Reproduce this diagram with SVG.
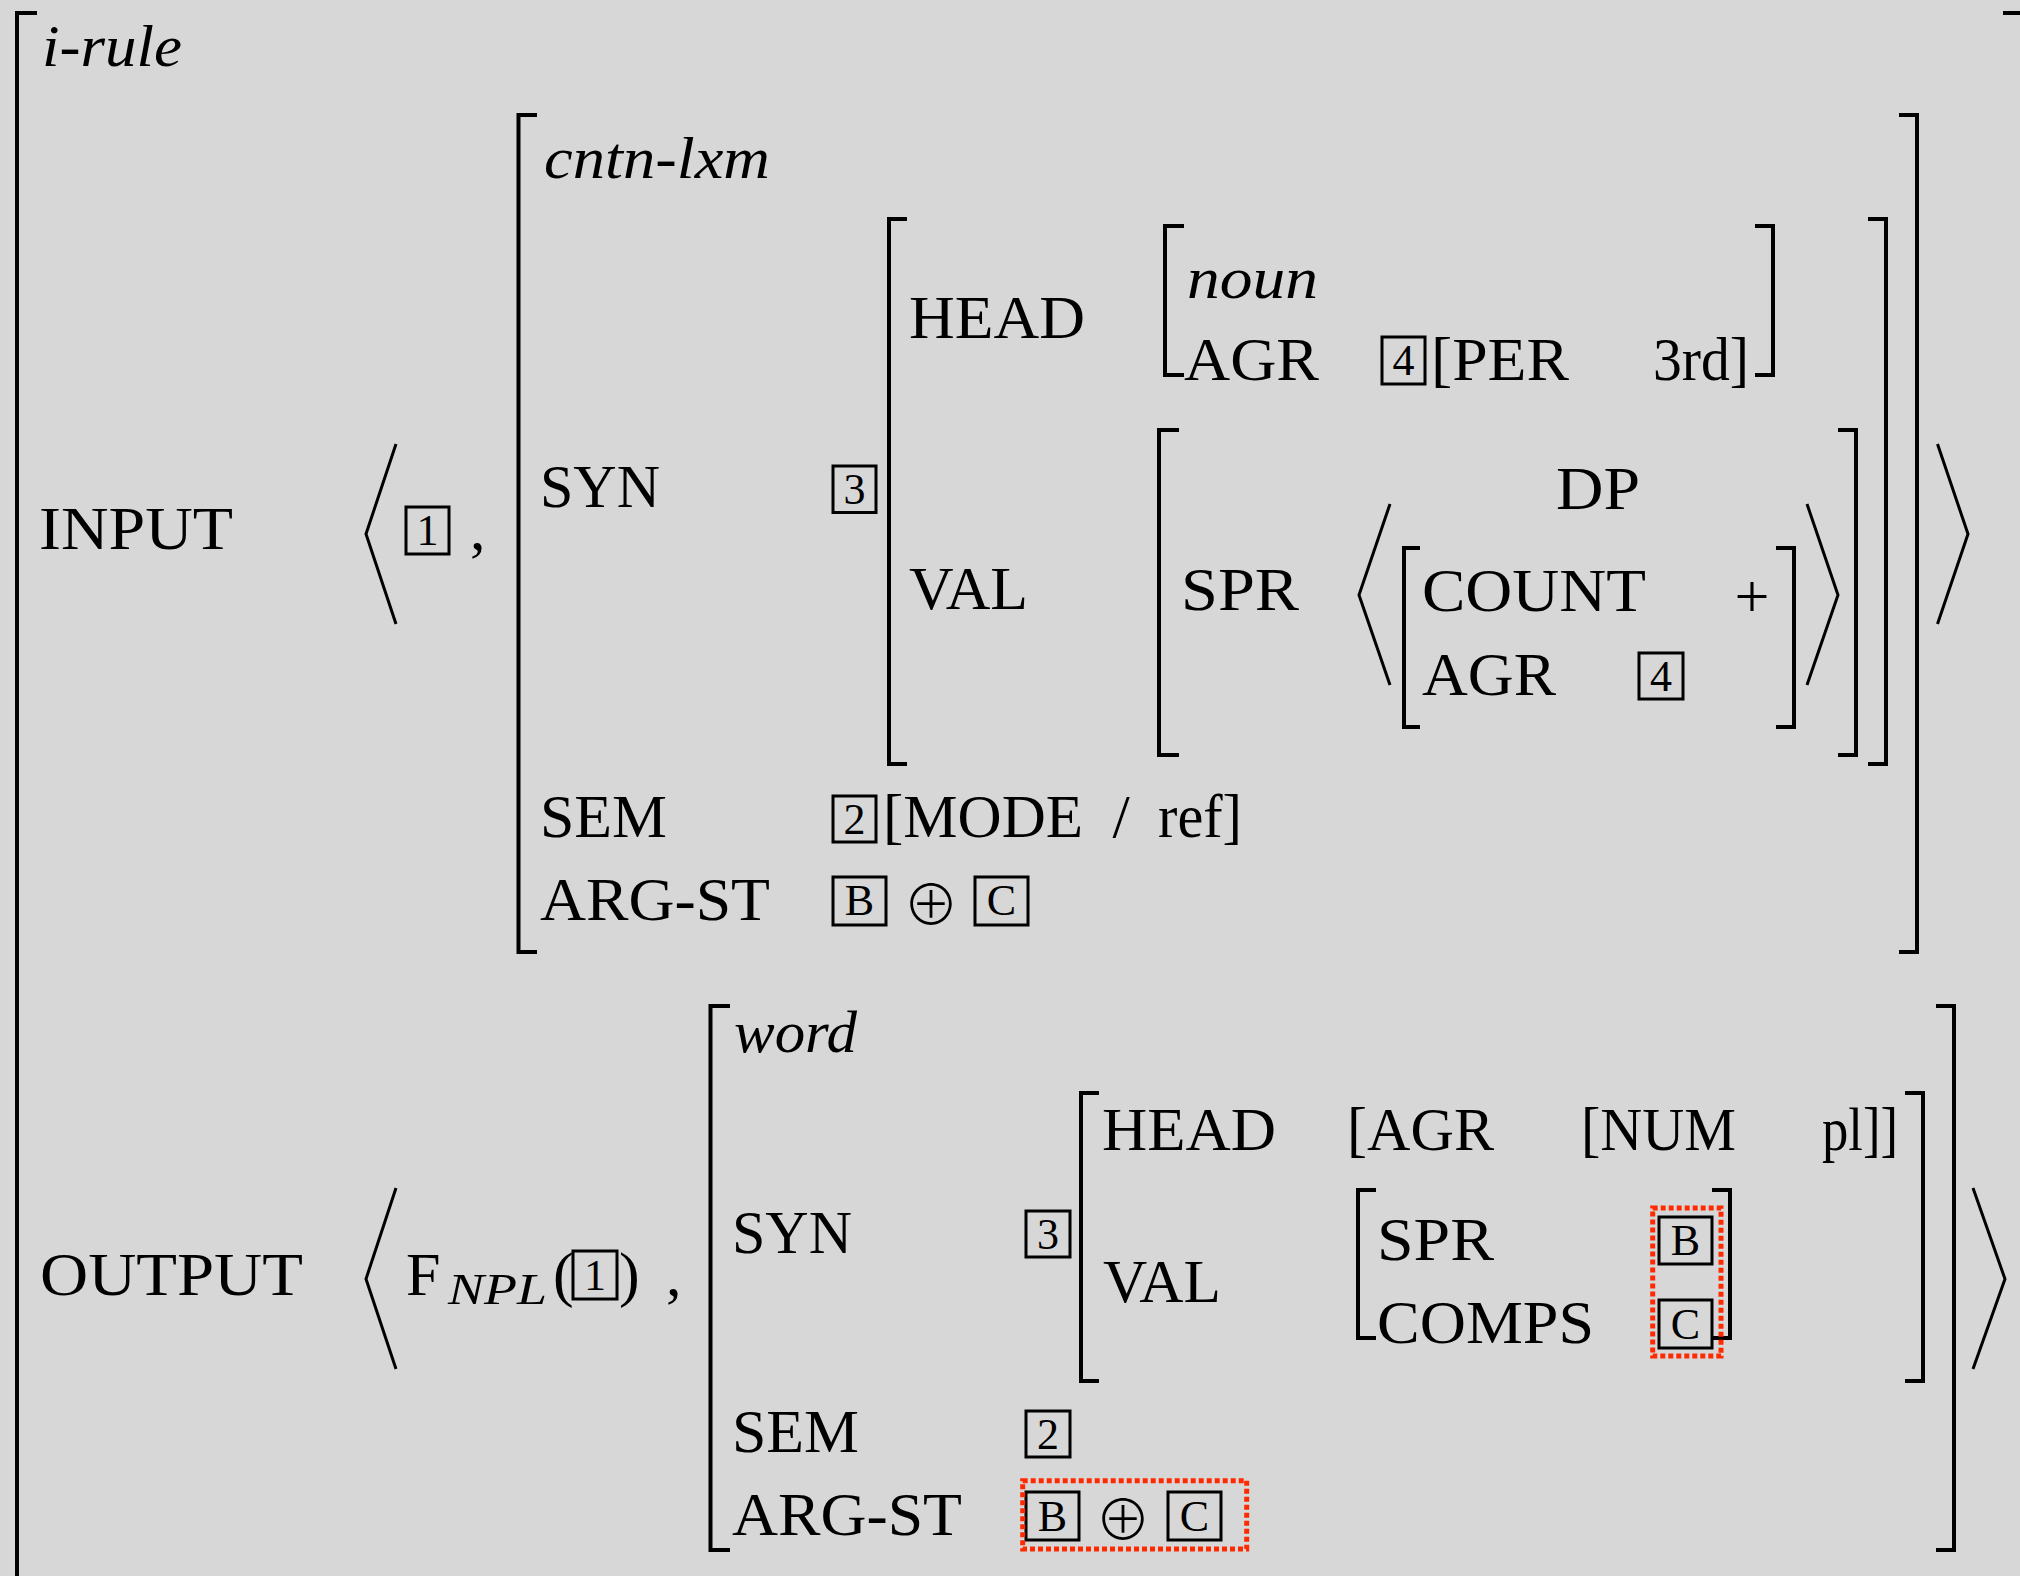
<svg xmlns="http://www.w3.org/2000/svg" width="2020" height="1576" viewBox="0 0 2020 1576">
<style>
.t{font-family:"Liberation Serif","Times New Roman",serif;font-size:62px;fill:#000}
.i{font-family:"Liberation Serif","Times New Roman",serif;font-style:italic;font-size:60px;fill:#000}
.s{font-family:"Liberation Serif","Times New Roman",serif;font-size:44px;fill:#000;text-anchor:middle}
.o{font-family:"Noto Sans CJK JP","DejaVu Sans",sans-serif;font-size:56px;font-weight:300;fill:#000;text-anchor:middle}
.br{fill:none;stroke:#000;stroke-width:4}
.ang{fill:none;stroke:#000;stroke-width:3}
.box{fill:none;stroke:#000;stroke-width:3}
.red{fill:none;stroke:#ff2a00;stroke-width:5;stroke-dasharray:5 3}
</style>
<rect x="0" y="0" width="2020" height="1576" fill="#d7d7d7"/>
<g id="brackets">
<path class="br" d="M37,13 H17 V1590"/>
<path class="br" d="M2003,13 H2024 V1590"/>
<path class="br" d="M537,115 H518.5 V952 H537"/>
<path class="br" d="M1899,115 H1917 V952 H1899"/>
<path class="br" d="M907,219 H889 V764 H907"/>
<path class="br" d="M1868,219 H1886 V764 H1868"/>
<path class="br" d="M1184,226 H1165 V375 H1184"/>
<path class="br" d="M1755,226 H1773 V375 H1755"/>
<path class="br" d="M1179,430 H1159 V755 H1179"/>
<path class="br" d="M1838,430 H1856 V755 H1838"/>
<path class="br" d="M1420,548 H1404 V727 H1420"/>
<path class="br" d="M1776,548 H1794 V727 H1776"/>
<path class="br" d="M730,1006 H710.5 V1550 H730"/>
<path class="br" d="M1936,1006 H1954 V1550 H1936"/>
<path class="br" d="M1099,1093 H1081 V1381 H1099"/>
<path class="br" d="M1905,1093 H1923 V1381 H1905"/>
<path class="br" d="M1376,1190 H1358 V1338 H1376"/>
<path class="br" d="M1712,1190 H1730 V1338 H1712"/>
</g>
<g id="angles">
<polyline class="ang" points="396,444 366,534 396,624"/>
<polyline class="ang" points="1937.5,444 1968,534 1937.5,624"/>
<polyline class="ang" points="1390,504 1359,595 1390,685"/>
<polyline class="ang" points="1807,504 1838,595 1807,685"/>
<polyline class="ang" points="396,1188 366,1279 396,1369"/>
<polyline class="ang" points="1973,1188 2005,1279 1973,1369"/>
</g>
<g id="irule">
<text class="i" x="42" y="66" textLength="140" lengthAdjust="spacingAndGlyphs">i-rule</text>
</g>
<g id="input">
<text class="t" x="39" y="549" textLength="194" lengthAdjust="spacingAndGlyphs">INPUT</text>
<rect class="box" x="406" y="507" width="43" height="47"/><text class="s" x="427.5" y="545">1</text>
<text class="t" x="470" y="549">,</text>
<text class="i" x="544" y="178" textLength="226" lengthAdjust="spacingAndGlyphs">cntn-lxm</text>
<text class="t" x="540" y="507" textLength="120" lengthAdjust="spacingAndGlyphs">SYN</text>
<rect class="box" x="833" y="466" width="43" height="46.5"/><text class="s" x="854.5" y="504">3</text>
<text class="t" x="909" y="338" textLength="176" lengthAdjust="spacingAndGlyphs">HEAD</text>
<text class="i" x="1187" y="298" textLength="131" lengthAdjust="spacingAndGlyphs">noun</text>
<text class="t" x="1184" y="380" textLength="135" lengthAdjust="spacingAndGlyphs">AGR</text>
<rect class="box" x="1382" y="337" width="43" height="47"/><text class="s" x="1403.5" y="375">4</text>
<text class="t" x="1431" y="380" textLength="138" lengthAdjust="spacingAndGlyphs">[PER</text>
<text class="t" x="1653" y="380" textLength="96" lengthAdjust="spacingAndGlyphs">3rd]</text>
<text class="t" x="909" y="609" textLength="119" lengthAdjust="spacingAndGlyphs">VAL</text>
<text class="t" x="1181" y="610" textLength="118" lengthAdjust="spacingAndGlyphs">SPR</text>
<text class="t" x="1556" y="509" textLength="84" lengthAdjust="spacingAndGlyphs">DP</text>
<text class="t" x="1422" y="611" textLength="224" lengthAdjust="spacingAndGlyphs">COUNT</text>
<text class="t" x="1752" y="617" text-anchor="middle">+</text>
<text class="t" x="1422" y="695" textLength="134" lengthAdjust="spacingAndGlyphs">AGR</text>
<rect class="box" x="1639" y="653" width="44" height="46"/><text class="s" x="1661" y="691">4</text>
<text class="t" x="540" y="837" textLength="127" lengthAdjust="spacingAndGlyphs">SEM</text>
<rect class="box" x="833" y="796" width="43" height="46"/><text class="s" x="854.5" y="834">2</text>
<text class="t" x="883" y="837" textLength="200" lengthAdjust="spacingAndGlyphs">[MODE</text>
<text class="t" x="1121" y="837" text-anchor="middle">/</text>
<text class="t" x="1158" y="837" textLength="84" lengthAdjust="spacingAndGlyphs">ref]</text>
<text class="t" x="540" y="920" textLength="230" lengthAdjust="spacingAndGlyphs">ARG-ST</text>
<rect class="box" x="833" y="877" width="53" height="48"/><text class="s" x="859.5" y="915">B</text>
<text class="o" x="931" y="925">⊕</text>
<rect class="box" x="975" y="877" width="53" height="48"/><text class="s" x="1001.5" y="915">C</text>
</g>
<g id="output">
<text class="t" x="40" y="1295" textLength="263" lengthAdjust="spacingAndGlyphs">OUTPUT</text>
<text class="t" x="406" y="1295">F</text>
<text class="i" x="448" y="1304" style="font-size:45px" textLength="99" lengthAdjust="spacingAndGlyphs">NPL</text>
<text class="t" x="553" y="1295">(</text>
<rect class="box" x="573" y="1251" width="44" height="48"/><text class="s" x="595" y="1290">1</text>
<text class="t" x="619" y="1295">)</text>
<text class="t" x="666" y="1295">,</text>
<text class="i" x="734" y="1052" textLength="123" lengthAdjust="spacingAndGlyphs">word</text>
<text class="t" x="732" y="1253" textLength="120" lengthAdjust="spacingAndGlyphs">SYN</text>
<rect class="box" x="1026" y="1211" width="44" height="46"/><text class="s" x="1048" y="1249">3</text>
<text class="t" x="1102" y="1150" textLength="174" lengthAdjust="spacingAndGlyphs">HEAD</text>
<text class="t" x="1347" y="1150" textLength="147" lengthAdjust="spacingAndGlyphs">[AGR</text>
<text class="t" x="1581" y="1150" textLength="155" lengthAdjust="spacingAndGlyphs">[NUM</text>
<text class="t" x="1822" y="1150" textLength="76" lengthAdjust="spacingAndGlyphs">pl]]</text>
<text class="t" x="1103" y="1302" textLength="118" lengthAdjust="spacingAndGlyphs">VAL</text>
<text class="t" x="1377" y="1260" textLength="117" lengthAdjust="spacingAndGlyphs">SPR</text>
<text class="t" x="1377" y="1343" textLength="217" lengthAdjust="spacingAndGlyphs">COMPS</text>
<rect class="box" x="1659" y="1217" width="53" height="47"/><text class="s" x="1685.5" y="1255">B</text>
<rect class="box" x="1659" y="1300" width="53" height="48"/><text class="s" x="1685.5" y="1339">C</text>
<rect class="red" x="1652.7" y="1208" width="68.3" height="148"/>
<text class="t" x="732" y="1452" textLength="127" lengthAdjust="spacingAndGlyphs">SEM</text>
<rect class="box" x="1026" y="1411" width="44" height="46"/><text class="s" x="1048" y="1449">2</text>
<text class="t" x="732" y="1535" textLength="230" lengthAdjust="spacingAndGlyphs">ARG-ST</text>
<rect class="box" x="1026" y="1492" width="53" height="48"/><text class="s" x="1052.5" y="1531">B</text>
<text class="o" x="1123" y="1540">⊕</text>
<rect class="box" x="1168" y="1492" width="53" height="48"/><text class="s" x="1194.5" y="1531">C</text>
<rect class="red" x="1022.7" y="1480.7" width="224" height="68.3"/>
</g>
</svg>
